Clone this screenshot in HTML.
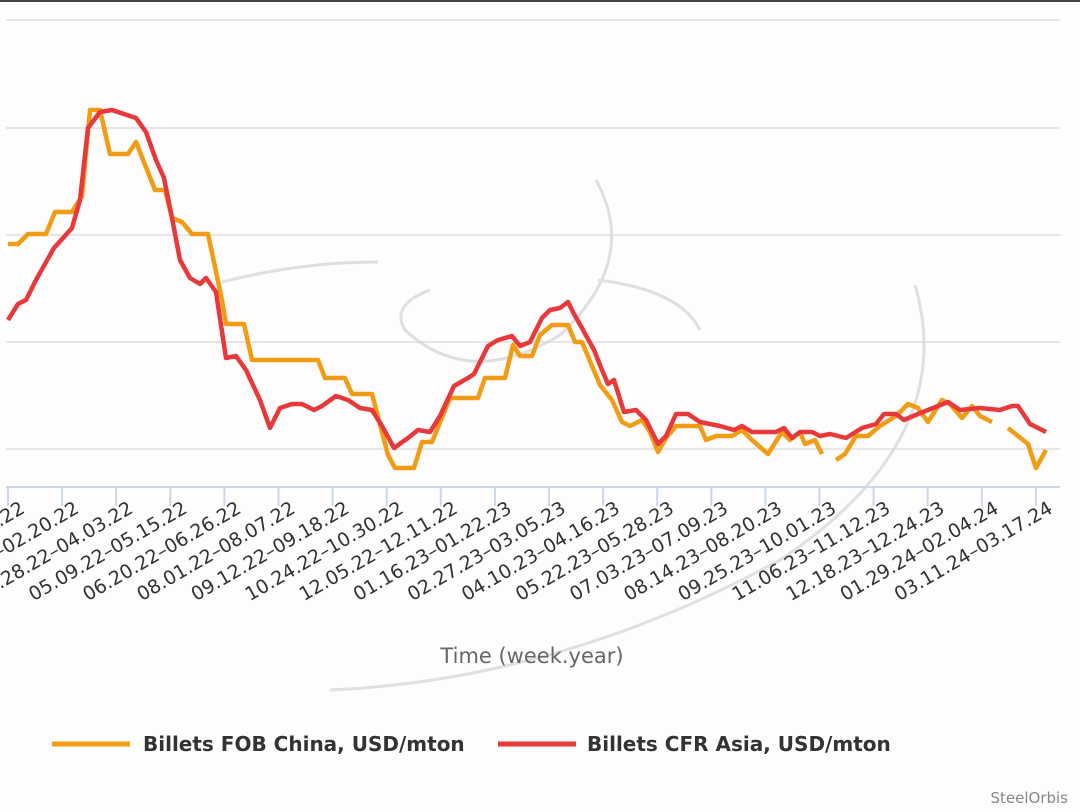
<!DOCTYPE html>
<html><head><meta charset="utf-8"><style>
body{margin:0;background:#fff;}
svg{display:block;font-family:"DejaVu Sans","Liberation Sans",sans-serif;}
</style></head><body>
<svg width="1080" height="812" viewBox="0 0 1080 812">
<rect width="1080" height="812" fill="#fefcfd"/>
<rect x="0" y="0" width="1080" height="2" fill="#444"/>
<g stroke="#e6e6e6" stroke-width="2">
<line x1="6" y1="20" x2="1060" y2="20"/>
<line x1="6" y1="128" x2="1060" y2="128"/>
<line x1="6" y1="235" x2="1060" y2="235"/>
<line x1="6" y1="342" x2="1060" y2="342"/>
<line x1="6" y1="449" x2="1060" y2="449"/>
</g>
<g fill="none" stroke="#d8d8d8" stroke-width="3" opacity="0.8">
<path d="M222 282 Q300 262 378 262"/>
<path d="M596 180 Q640 260 560 335 Q470 390 405 330 Q390 305 430 290"/>
<path d="M598 280 Q680 290 700 330"/>
<path d="M915 285 Q960 440 780 560 Q560 680 330 690"/>
</g>
<line x1="6" y1="487" x2="1060" y2="487" stroke="#ccd6eb" stroke-width="2"/>
<g stroke="#ccd6eb" stroke-width="2" id="ticks"></g>
<g font-size="19" fill="#333" id="labels"></g>
<polyline fill="none" stroke="#f29c13" stroke-width="4.5" stroke-linejoin="round" points="8,244 18,244 28,234 46,234 55,212 72,212 82,196 90,110 100,110 110,154 128,154 136,142 155,190 165,190 172,218 182,222 192,234 208,234 222,300 226,324 244,324 252,360 318,360 325,378 345,378 352,394 372,394 388,455 395,468 414,468 422,442 432,442 450,398 460,398 478,398 485,378 505,378 513,345 520,356 532,356 540,335 552,325 568,325 575,342 582,342 600,385 612,400 622,422 630,426 642,420 650,432 658,452 666,438 676,426 700,426 706,440 716,436 732,436 742,430 752,440 768,454 782,432 790,440 800,432 805,444 815,440 822,454"/>
<polyline fill="none" stroke="#f29c13" stroke-width="4.5" stroke-linejoin="round" points="836,460 845,454 856,436 868,436 880,426 896,416 908,404 918,408 928,422 942,400 950,404 962,418 972,406 980,416 992,422"/>
<polyline fill="none" stroke="#f29c13" stroke-width="4.5" stroke-linejoin="round" points="1008,428 1028,444 1036,468 1046,450"/>
<polyline fill="none" stroke="#e8383a" stroke-width="4.5" stroke-linejoin="round" points="8,320 18,304 26,300 36,280 54,248 72,228 80,200 88,128 100,112 112,110 124,114 136,118 146,132 156,160 164,178 172,218 180,260 190,278 200,284 206,278 216,292 226,358 236,356 246,370 260,400 270,428 280,408 292,404 302,404 314,410 322,406 336,396 348,400 360,408 372,410 382,426 394,448 408,438 418,430 430,432 440,416 454,386 468,378 474,374 488,346 498,340 512,336 520,346 530,342 542,318 550,310 560,308 568,302 574,314 582,328 594,350 602,370 608,384 614,380 624,412 636,410 646,420 658,444 666,436 676,414 688,414 700,422 720,426 734,430 742,426 752,432 776,432 784,428 792,438 800,432 812,432 820,436 830,434 846,438 862,428 876,424 884,414 896,414 904,420 918,414 928,410 948,402 960,410 980,408 1000,410 1012,406 1018,406 1030,424 1046,432"/>
<text x="532" y="663" font-size="21" fill="#666" text-anchor="middle">Time (week.year)</text>
<line x1="52" y1="744" x2="130" y2="744" stroke="#f29c13" stroke-width="5"/>
<text x="143" y="751" font-size="20" font-weight="bold" fill="#333">Billets FOB China, USD/mton</text>
<line x1="498" y1="744" x2="576" y2="744" stroke="#e8383a" stroke-width="5"/>
<text x="587" y="751" font-size="20" font-weight="bold" fill="#333">Billets CFR Asia, USD/mton</text>
<text x="1068" y="803" font-size="15" fill="#888" text-anchor="end">SteelOrbis</text>
</svg>
<script>
var labs=["01.03.22–01.09.22","02.14.22–02.20.22","03.28.22–04.03.22","05.09.22–05.15.22","06.20.22–06.26.22","08.01.22–08.07.22","09.12.22–09.18.22","10.24.22–10.30.22","12.05.22–12.11.22","01.16.23–01.22.23","02.27.23–03.05.23","04.10.23–04.16.23","05.22.23–05.28.23","07.03.23–07.09.23","08.14.23–08.20.23","09.25.23–10.01.23","11.06.23–11.12.23","12.18.23–12.24.23","01.29.24–02.04.24","03.11.24–03.17.24"];
var ns="http://www.w3.org/2000/svg",t=document.getElementById("ticks"),l=document.getElementById("labels");
for(var i=0;i<20;i++){var x=8+i*54.1;
var ln=document.createElementNS(ns,"line");ln.setAttribute("x1",x);ln.setAttribute("x2",x);ln.setAttribute("y1",487);ln.setAttribute("y2",506);t.appendChild(ln);
var tx=document.createElementNS(ns,"text");var ax=x+18,ay=512;tx.setAttribute("x",ax);tx.setAttribute("y",ay);tx.setAttribute("text-anchor","end");tx.setAttribute("transform","rotate(-30 "+ax+" "+ay+")");tx.textContent=labs[i];l.appendChild(tx);}
</script>
</body></html>
